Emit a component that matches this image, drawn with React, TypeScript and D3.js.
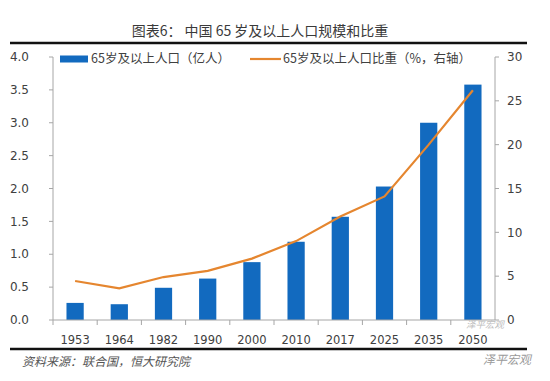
import React from "react";
import * as d3 from "d3";

const years = ["1953", "1964", "1982", "1990", "2000", "2010", "2017", "2025", "2035", "2050"];
const population = [0.26, 0.24, 0.49, 0.63, 0.88, 1.19, 1.57, 2.03, 3.0, 3.58];
const share = [4.45, 3.6, 4.9, 5.6, 7.0, 9.0, 11.8, 14.1, 20.0, 26.2];
const leftTicks = [0, 0.5, 1, 1.5, 2, 2.5, 3, 3.5, 4];
const rightTicks = [0, 5, 10, 15, 20, 25, 30];

const W = 550, H = 381;
const X0 = 53, X1 = 495, Y0 = 320, Y1 = 57;
const numFont = "'DejaVu Sans', Verdana, sans-serif";
const cjkFont = "'Noto Sans CJK SC', sans-serif";

export default function App() {
  const x = d3.scaleBand<string>().domain(years).range([X0, X1]).paddingInner(0.61).paddingOuter(0.305);
  const xc = d3.scaleBand<string>().domain(years).range([X0, X1]);
  const yL = d3.scaleLinear().domain([0, 4]).range([Y0, Y1]);
  const yR = d3.scaleLinear().domain([0, 30]).range([Y0, Y1]);
  const line = d3
    .line<number>()
    .x((_, i) => (xc(years[i]) as number) + xc.bandwidth() / 2)
    .y((d) => yR(d));

  return (
    <svg width={W} height={H} style={{ position: "absolute", left: 0, top: 0, background: "#fff" }}>
      <rect x={0} y={0} width={W} height={H} fill="#fff" />
      <text x={260} y={31} dy="0.35em" textAnchor="middle" fontFamily={cjkFont} fontSize={14} fill="#3a3a3a">
        图表6：  中国 65 岁及以上人口规模和比重
      </text>
      <line x1={10} x2={527} y1={43} y2={43} stroke="#111" strokeWidth={2.5} />
      <line x1={10} x2={527} y1={349} y2={349} stroke="#111" strokeWidth={2.5} />

      {/* bars */}
      {years.map((yr, i) => (
        <rect key={yr} x={x(yr)} y={yL(population[i])} width={x.bandwidth()} height={Y0 - yL(population[i])} fill="#126abf" />
      ))}
      {/* line */}
      <path d={line(share) || ""} fill="none" stroke="#e5862f" strokeWidth={2.2} />

      {/* left axis */}
      <line x1={X0} x2={X0} y1={Y1} y2={Y0} stroke="#a6a6a6" />
      {leftTicks.map((t) => (
        <g key={t}>
          <line x1={X0 - 4} x2={X0} y1={yL(t)} y2={yL(t)} stroke="#a6a6a6" />
          <text x={29} y={yL(t)} dy="0.35em" textAnchor="end" fontFamily={numFont} fontSize={12} fill="#404040">
            {t.toFixed(1)}
          </text>
        </g>
      ))}
      {/* right axis */}
      <line x1={X1} x2={X1} y1={Y1} y2={Y0} stroke="#a6a6a6" />
      {rightTicks.map((t) => (
        <g key={t}>
          <line x1={X1} x2={X1 + 4} y1={yR(t)} y2={yR(t)} stroke="#a6a6a6" />
          <text x={507} y={yR(t)} dy="0.35em" textAnchor="start" fontFamily={numFont} fontSize={12} fill="#404040">
            {t}
          </text>
        </g>
      ))}
      {/* x axis */}
      <line x1={X0} x2={X1} y1={Y0} y2={Y0} stroke="#a6a6a6" />
      {years.map((yr) => (
        <g key={yr}>
          <line x1={xc(yr)} x2={xc(yr)} y1={Y0} y2={Y0 + 5} stroke="#a6a6a6" />
          <text x={(xc(yr) as number) + xc.bandwidth() / 2} y={339.5} dy="0.35em" textAnchor="middle" fontFamily={numFont} fontSize={11.5} fill="#404040">
            {yr}
          </text>
        </g>
      ))}

      {/* legend */}
      <rect x={60} y={55.5} width={28} height={7} fill="#126abf" />
      <text x={91} y={59} dy="0.35em" fontFamily={cjkFont} fontSize={12.5} fill="#404040">65岁及以上人口（亿人）</text>
      <line x1={250} x2={281} y1={59} y2={59} stroke="#e5862f" strokeWidth={2.2} />
      <text x={283} y={59} dy="0.35em" fontFamily={cjkFont} fontSize={12.5} fill="#404040">65岁及以上人口比重（%，右轴）</text>

      {/* source */}
      <text x={22} y={362} dy="0.35em" fontFamily={cjkFont} fontSize={12} fontStyle="italic" fill="#555">
        资料来源：联合国，恒大研究院
      </text>
      {/* watermarks */}
      <text x={466} y={325} dy="0.35em" fontFamily={cjkFont} fontSize={9.5} fontStyle="italic" fill="#bdbdbd">泽平宏观</text>
      <text x={483} y={360} dy="0.35em" fontFamily={cjkFont} fontSize={12} fontStyle="italic" fill="#9a9a9a">泽平宏观</text>
    </svg>
  );
}
